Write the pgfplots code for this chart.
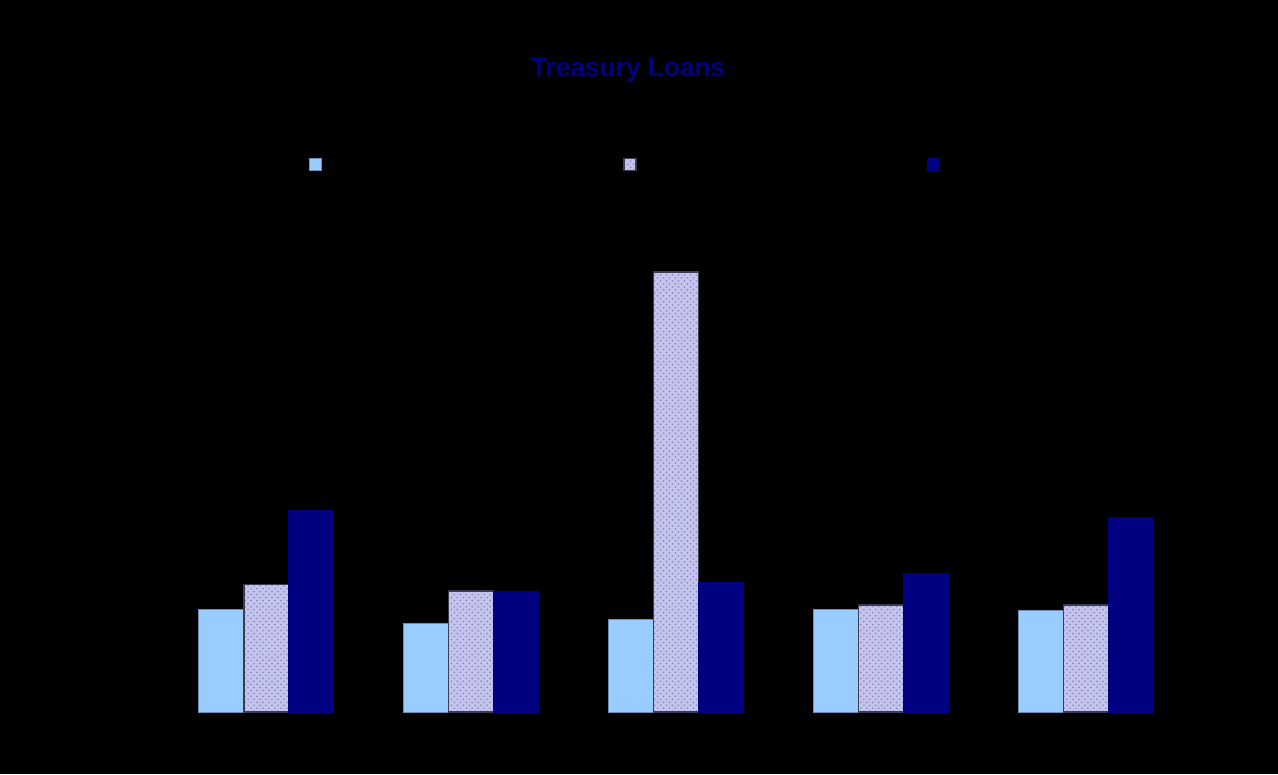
\documentclass[border=0pt]{standalone}
\usepackage{pgfplots}
\pgfplotsset{compat=1.18}
\usepackage{fontspec}
\setmainfont{Liberation Sans}
\usetikzlibrary{patterns}

\definecolor{skyblue}{RGB}{153,204,255}
\definecolor{skyedge}{RGB}{110,140,180}
\definecolor{lavender}{RGB}{196,196,236}
\definecolor{lavdots}{RGB}{140,140,205}
\definecolor{lavedge}{RGB}{60,60,80}
\definecolor{navyblue}{RGB}{0,0,128}

\begin{document}
\begin{tikzpicture}[x=1bp,y=1bp]
% page background
\fill[black] (0,0) rectangle (639,387);

\begin{axis}[
  at={(82bp,31bp)}, anchor=south west,
  scale only axis, width=512bp, height=242bp,
  xmin=-0.5, xmax=4.5, ymin=0, ymax=110,
  ybar=0pt, bar width=22.5bp,
  axis line style={black},
  xtick=\empty, ytick=\empty,
  every axis plot post/.append style={
    legend image code/.code={\draw[##1] (0bp,-3bp) rectangle (6bp,3bp);}},
  legend columns=3,
  legend style={draw=none, fill=none, inner sep=0pt,
    nodes={inner sep=0pt},
    at={(0.1416,1.132)}, anchor=west},
]
\addplot[fill=skyblue, draw=skyedge, line width=0.5bp]
  coordinates {(0,23.4) (1,20.2) (2,21.1) (3,23.4) (4,23.0)};
\addlegendentry{\hspace*{150.5bp}}
\addplot[fill=lavender, draw=lavedge, line width=0.6bp,
  postaction={pattern=crosshatch dots, pattern color=lavdots}]
  coordinates {(0,28.9) (1,27.5) (2,100) (3,24.3) (4,24.3)};
\addlegendentry{\hspace*{145bp}}
\addplot[fill=navyblue, draw=navyblue, line width=0.5bp]
  coordinates {(0,45.9) (1,27.5) (2,29.5) (3,31.4) (4,44.1)};
\addlegendentry{\hspace*{100bp}}
\end{axis}

\node[font=\bfseries\fontsize{13.2}{15}\selectfont, text=navyblue]
  at (314bp,352bp) {Treasury Loans};

\pgfresetboundingbox
\useasboundingbox (0,0) rectangle (639,387);
\end{tikzpicture}
\end{document}
